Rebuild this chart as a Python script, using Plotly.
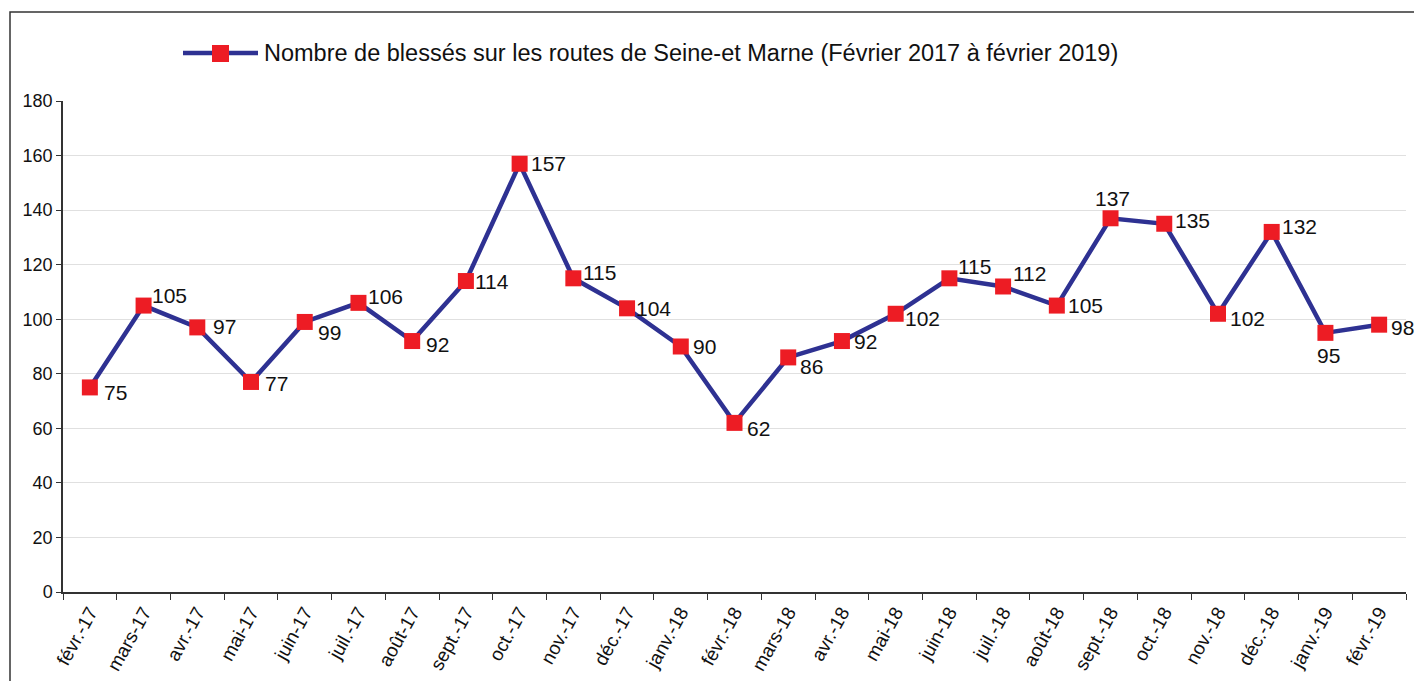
import plotly.graph_objects as go

months = ["févr.-17", "mars-17", "avr.-17", "mai-17", "juin-17", "juil.-17", "août-17",
          "sept.-17", "oct.-17", "nov.-17", "déc.-17", "janv.-18", "févr.-18", "mars-18",
          "avr.-18", "mai-18", "juin-18", "juil.-18", "août-18", "sept.-18", "oct.-18",
          "nov.-18", "déc.-18", "janv.-19", "févr.-19"]
blesses = [75, 105, 97, 77, 99, 106, 92, 114, 157, 115, 104, 90, 62, 86, 92, 102,
           115, 112, 105, 137, 135, 102, 132, 95, 98]
series_name = "Nombre de blessés sur les routes de Seine-et Marne (Février 2017 à février 2019)"

# label placement (style): anchor, x shift px, y shift px (positive = down)
label_anchor = ["left"] * 19 + ["center"] + ["left"] * 3 + ["center", "left"]
label_dx = [12, 6, 14, 12, 11, 8, 12, 7, 9, 8, 7, 10, 10, 10, 10, 7,
            7, 8, 9, 2, 9, 10, 8, 3, 10]
label_dy = [5, -10, -1, 2, 11, -6, 3, 0, 0, -6, 0, 0, 6, 9, 0, 5,
            -12, -13, 0, -20, -3, 5, -5, 23, 3]

# page offset of the plot div (default body margin)
OFF = 8
W, H = 1422 - 2 * OFF, 681 - OFF
# target plot area in page pixels: x 63..1406, y 101..592
L = 63 - OFF
T = 101 - OFF
R = W - (1406 - OFF)
B = H - (592 - OFF)
PW, PH = W - L - R, H - T - B


def px(x):
    return (x - OFF - L) / PW


def py(y):
    return (H - B - (y - OFF)) / PH


LINE_COLOR = "#2E3192"
MARK_COLOR = "#ED1C24"

fig = go.Figure()
fig.add_trace(go.Scatter(
    x=months, y=blesses, mode="lines+markers", name=series_name,
    line=dict(color=LINE_COLOR, width=4.5),
    marker=dict(symbol="square", size=16, color=MARK_COLOR),
    cliponaxis=False, showlegend=False,
))

annotations = [dict(
    text=series_name, xref="paper", yref="paper", x=px(262), y=py(53),
    xanchor="left", yanchor="middle", showarrow=False,
    font=dict(size=23.5, color="#111111"),
)]
for m, v, a, dx, dy in zip(months, blesses, label_anchor, label_dx, label_dy):
    annotations.append(dict(
        x=m, y=v, xref="x", yref="y", text=str(v), showarrow=False,
        xanchor=a, yanchor="middle", xshift=dx, yshift=-dy,
        font=dict(size=21, color="#111111"),
    ))

fig.update_layout(
    width=W, height=H,
    margin=dict(l=L, r=R, t=T, b=B, autoexpand=False),
    paper_bgcolor="white", plot_bgcolor="white",
    font=dict(family="Liberation Sans, Arial", color="#111111"),
    showlegend=False,
    xaxis=dict(
        type="category", range=[-0.5, len(months) - 0.5],
        showline=True, linecolor="#333333", linewidth=1.5,
        ticks="outside", tickson="boundaries", ticklen=6, tickcolor="#333333",
        tickangle=-61, tickfont=dict(size=19), showgrid=False, zeroline=False,
        automargin=False,
    ),
    yaxis=dict(
        range=[0, 180], dtick=20, showline=True, linecolor="#333333", linewidth=1.5,
        ticks="outside", ticklen=5, tickcolor="#333333", tickfont=dict(size=18),
        showgrid=True, gridcolor="#E0E0E0", gridwidth=1, zeroline=False,
        automargin=False,
    ),
    shapes=[
        dict(type="rect", xref="paper", yref="paper",
             x0=px(10), x1=px(1440), y0=py(695), y1=py(12),
             line=dict(color="#333333", width=1.5), fillcolor="rgba(0,0,0,0)"),
        dict(type="line", xref="paper", yref="paper",
             x0=px(183), x1=px(258), y0=py(53), y1=py(53),
             line=dict(color=LINE_COLOR, width=4.5)),
        dict(type="rect", xref="paper", yref="paper",
             x0=px(212), x1=px(229), y0=py(62), y1=py(45),
             line=dict(width=0), fillcolor=MARK_COLOR),
    ],
    annotations=annotations,
)

fig.write_html("out.html")
